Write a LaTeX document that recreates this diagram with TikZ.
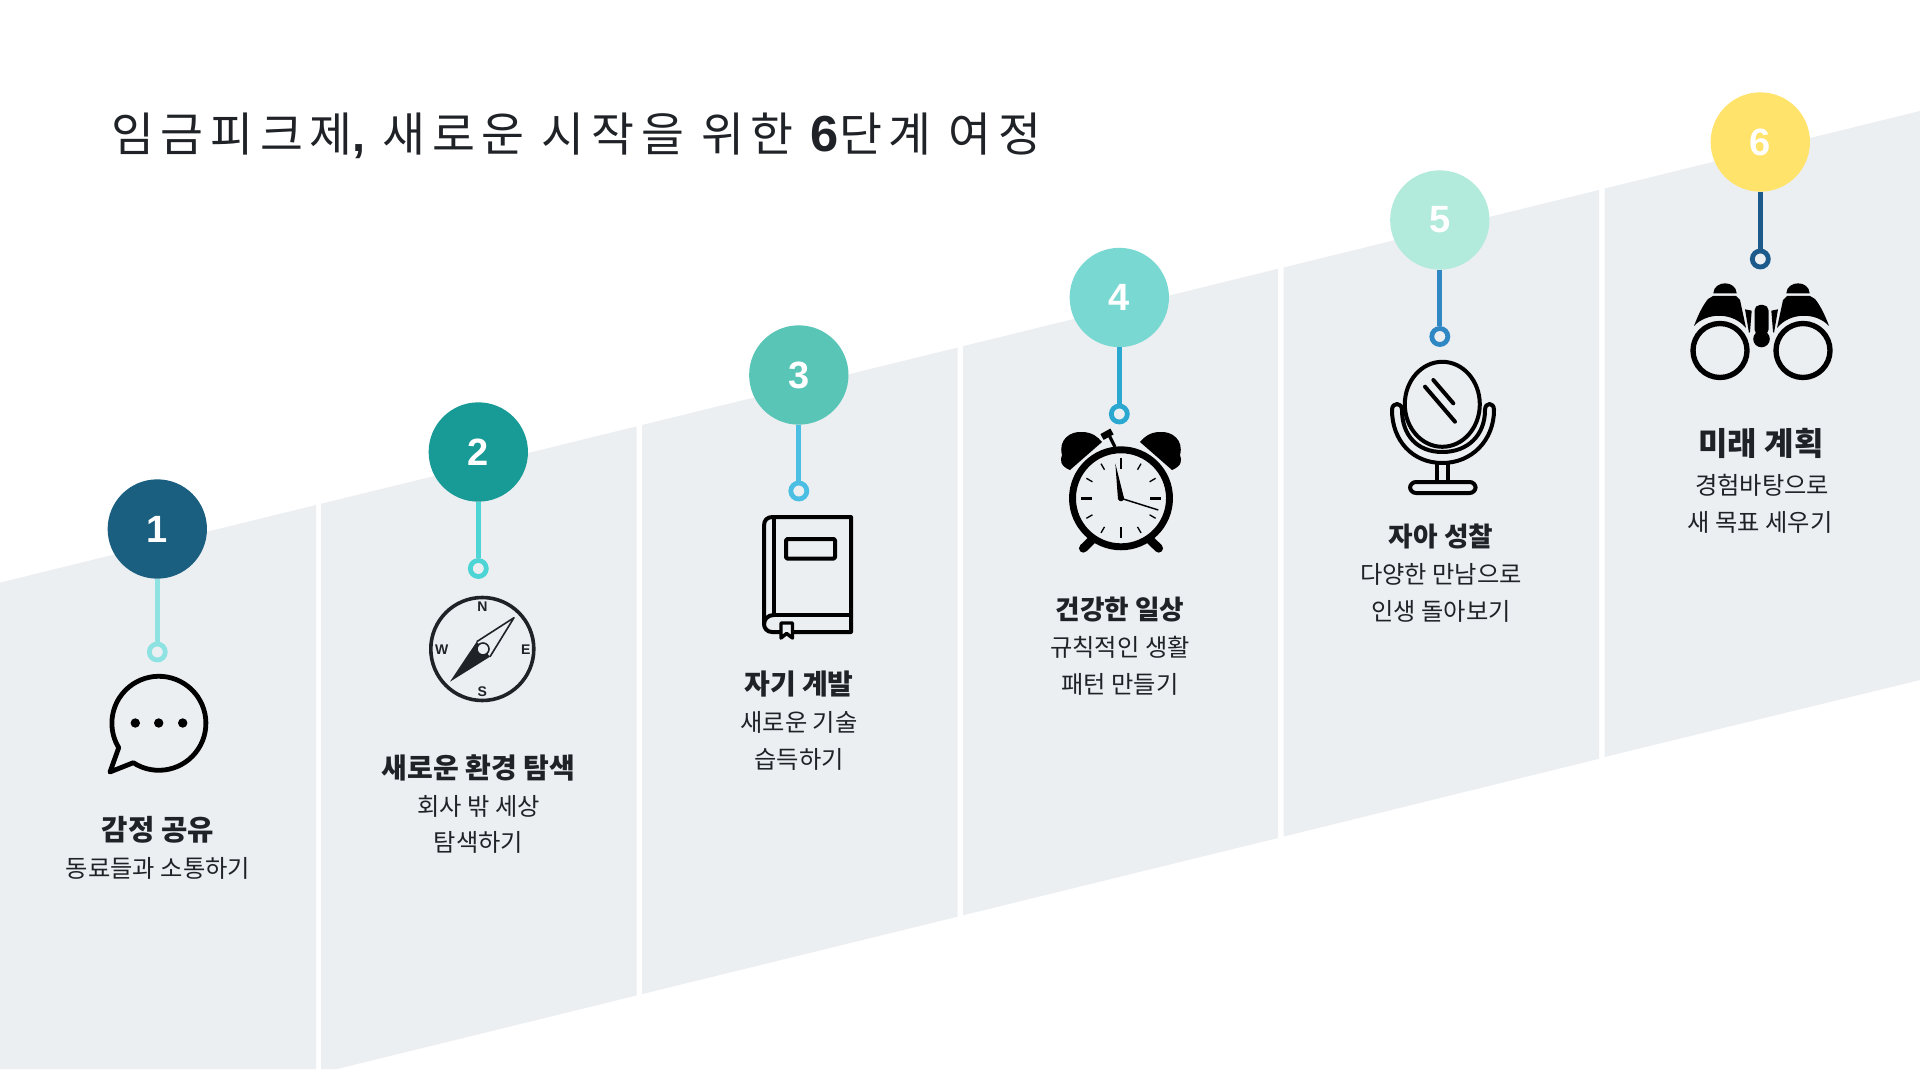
\documentclass[tikz,border=0pt]{standalone}
\usepackage{fontspec}
\setmainfont{Noto Sans CJK KR}
\newfontfamily\latinfont{Liberation Sans}
\definecolor{panelfill}{HTML}{ECEFF2}
\definecolor{inkdark}{HTML}{1F2226}
\tikzset{
  panel/.style={fill=panelfill,draw=none},
  numcircle/.style={circle,minimum size=74.5pt,inner sep=0pt,text=white,font=\latinfont\fontsize{28.5}{28.5}\selectfont\bfseries},
  stemring/.style={circle,minimum size=12pt,inner sep=0pt,line width=3.6pt,fill=panelfill},
  stemline/.style={line width=4pt},
  headtext/.style={inner sep=0.75pt,text=inkdark,font=\fontsize{21}{21}\selectfont\bfseries},
  bodytext/.style={inner sep=0.75pt,text=inkdark,font=\fontsize{18.2}{18.2}\selectfont},
  iconline/.style={draw=black,line width=3pt,line join=round},
  compassletter/.style={inner sep=0pt,text=inkdark,font=\latinfont\fontsize{10.5}{10.5}\selectfont\bfseries}
}

\begin{document}
\begin{tikzpicture}[x=0.75pt,y=0.75pt,yscale=-1,xscale=1]
\useasboundingbox (0,0) rectangle (1920,1080);
\fill [white] (0,0) rectangle (1920,1080);

%Shape: Polygon
\path [panel] (0,582.6) -- (316,505) -- (316,1069) -- (0,1069) -- cycle ;
\path [panel] (321,503.8) -- (636.5,426.4) -- (636.5,995.5) -- (337,1069) -- (321,1069) -- cycle ;
\path [panel] (642,425) -- (957.5,347.6) -- (957.5,916.7) -- (642,994.1) -- cycle ;
\path [panel] (963,346.2) -- (1278,268.8) -- (1278,838) -- (963,915.3) -- cycle ;
\path [panel] (1283.5,267.5) -- (1599,190) -- (1599,758.8) -- (1283.5,836.6) -- cycle ;
\path [panel] (1604.5,188.6) -- (1920,111) -- (1920,680) -- (1604.5,757) -- cycle ;

% Text Node
\node (title) [anchor=base west,inner sep=0pt,text=inkdark,font=\fontsize{35}{35}\selectfont\addfontfeature{LetterSpace=14.3}] at (111,152) {임금피크제{\latinfont\bfseries,} 새로운 시작을 위한 {\latinfont\bfseries\fontsize{38}{38}\selectfont 6}단계 여정};

%Shape: Circle
\node (c1) [numcircle,fill={rgb,255:red,26;green,95;blue,127}] at (157.3,529) {1};
\node (c2) [numcircle,fill={rgb,255:red,24;green,154;blue,150}] at (478.3,452) {2};
\node (c3) [numcircle,fill={rgb,255:red,88;green,197;blue,182}] at (798.8,375) {3};
\node (c4) [numcircle,fill={rgb,255:red,122;green,216;blue,210}] at (1119.3,297.5) {4};
\node (c5) [numcircle,fill={rgb,255:red,178;green,234;blue,220}] at (1439.8,220) {5};
\node (c6) [numcircle,fill={rgb,255:red,255;green,227;blue,106}] at (1760.3,142) {6};

%Shape: Circle
\node (r1) [stemring,draw={rgb,255:red,142;green,227;blue,226}] at (157.3,652) {};
\node (r2) [stemring,draw={rgb,255:red,77;green,212;blue,212}] at (478.3,568.5) {};
\node (r3) [stemring,draw={rgb,255:red,75;green,191;blue,227}] at (798.8,491) {};
\node (r4) [stemring,draw={rgb,255:red,43;green,168;blue,207}] at (1119.3,414) {};
\node (r5) [stemring,draw={rgb,255:red,47;green,135;blue,196}] at (1439.8,336.5) {};
\node (r6) [stemring,draw={rgb,255:red,29;green,90;blue,140}] at (1760.3,259) {};

%Straight Lines
\draw [stemline,draw={rgb,255:red,142;green,227;blue,226}] (c1) -- (r1) ;
\draw [stemline,draw={rgb,255:red,77;green,212;blue,212}] (c2) -- (r2) ;
\draw [stemline,draw={rgb,255:red,75;green,191;blue,227}] (c3) -- (r3) ;
\draw [stemline,draw={rgb,255:red,43;green,168;blue,207}] (c4) -- (r4) ;
\draw [stemline,draw={rgb,255:red,47;green,135;blue,196}] (c5) -- (r5) ;
\draw [stemline,draw={rgb,255:red,29;green,90;blue,140}] (c6) -- (r6) ;

%Icon: speech bubble
\draw [iconline,line width=3.6pt] (133.3,762.7) arc (123:-211.3:47) -- (110,772) -- cycle ;
\fill (135.3,723) circle (4.7) ;
\fill (158.7,723) circle (4.7) ;
\fill (182.7,723) circle (4.7) ;

%Icon: compass
\draw [inkdark,line width=2.7pt] (482.3,649) circle (51.5) ;
\node (compassN) [compassletter] at (482.3,606.7) {N};
\node (compassS) [compassletter] at (482.3,691.7) {S};
\node (compassW) [compassletter] at (441.7,649.3) {W};
\node (compassE) [compassletter] at (525.7,649.3) {E};
\fill [inkdark] (450,681.7) -- (476.7,641.7) -- (490,656.7) -- cycle ;
\draw [inkdark,line width=1.2pt,line join=round] (476.7,641.7) -- (514,617.7) -- (490,656.7) ;
\draw [inkdark,fill=panelfill,line width=1.2pt] (483,649) circle (6) ;

%Icon: book
\draw [iconline] (851,517) -- (851,632) -- (772,632) .. controls (767,632) and (764,628) .. (764,624) -- (764,526) .. controls (764,520) and (767,517) .. (773,517) -- cycle ;
\draw [iconline] (774,517) -- (774,615) -- (851,615) ;
\draw [iconline] (774,615) .. controls (768,615) and (764,619) .. (764,624) ;
\draw [iconline,rounded corners=1pt] (786,539) rectangle (835,558.6) ;
\draw [iconline,fill=panelfill,line width=2.6pt] (781,623) -- (792.5,623) -- (792.5,638) -- (786.6,633.5) -- (781,638) -- cycle ;

%Icon: alarm clock
\draw [iconline,line width=5.2pt] (1121,498.3) circle (48.5) ;
\fill (1070,470) .. controls (1060,466) and (1060,460) .. (1062,455) .. controls (1058,440) and (1070,431) .. (1082,432) .. controls (1092,432) and (1098,437) .. (1102,442) -- cycle ;
\fill (1172,470) .. controls (1182,466) and (1182,460) .. (1180,455) .. controls (1184,440) and (1172,431) .. (1160,432) .. controls (1150,432) and (1144,437) .. (1140,442) -- cycle ;
\draw [line width=2.4pt] (1108,433) -- (1115,447) ;
\draw [line width=5pt] (1102,437) -- (1112,431.5) ;
\draw [line width=6.5pt,line cap=round] (1091.7,540) -- (1083.3,548.3) ;
\draw [line width=6.5pt,line cap=round] (1150.3,540) -- (1158.7,548.3) ;
\draw [line width=2.2pt] (1121,458.3) -- (1121,469.3) ;
\draw [line width=2.2pt] (1121,527.3) -- (1121,538.3) ;
\draw [line width=2.2pt] (1081,498.3) -- (1092,498.3) ;
\draw [line width=2.2pt] (1150,498.3) -- (1161,498.3) ;
\draw [line width=1pt] (1141,463.7) -- (1137.5,469.7) ;
\draw [line width=1pt] (1155.6,478.3) -- (1149.6,481.8) ;
\draw [line width=1pt] (1155.6,518.3) -- (1149.6,514.8) ;
\draw [line width=1pt] (1141,532.9) -- (1137.5,526.9) ;
\draw [line width=1pt] (1101,532.9) -- (1104.5,526.9) ;
\draw [line width=1pt] (1086.4,518.3) -- (1092.4,514.8) ;
\draw [line width=1pt] (1086.4,478.3) -- (1092.4,481.8) ;
\draw [line width=1pt] (1101,463.7) -- (1104.5,469.7) ;
\fill (1115.3,463.3) -- (1124,498.3) -- (1118,499.5) -- cycle ;
\draw [line width=1.1pt] (1121,498.3) -- (1158.3,510) ;
\fill (1121,498.3) circle (3) ;

%Icon: mirror
\draw [iconline] (1442.3,404.3) ellipse (37.5 and 42.5) ;
\draw [iconline,line cap=round] (1433.3,380) -- (1453.3,403.3) ;
\draw [iconline,line cap=round] (1425,386.7) -- (1455,421.7) ;
\draw [iconline] (1392,410) .. controls (1392,440) and (1412,463) .. (1442.3,463) .. controls (1472,463) and (1494,440) .. (1494,410) .. controls (1494,402) and (1485,402) .. (1485,410) .. controls (1485,435) and (1468,452) .. (1442.3,452) .. controls (1417,452) and (1402,435) .. (1402,410) .. controls (1402,402) and (1392,402) .. (1392,410) -- cycle ;
\draw [iconline] (1437.3,463) -- (1437.3,481) ;
\draw [iconline] (1448.3,463) -- (1448.3,481) ;
\draw [iconline,rounded corners=4.5pt] (1410,482) rectangle (1475.6,493) ;

%Icon: binoculars
\draw [iconline,line width=4pt] (1720,350.5) circle (27) ;
\draw [iconline,line width=4pt] (1803,350.5) circle (27) ;
\fill (1761.5,339) circle (8.3) ;
\fill (1694,326) .. controls (1698,315) and (1703,305) .. (1708,299) -- (1713,296) -- (1736,296) -- (1740,300) -- (1746,328) .. controls (1733,312) and (1707,312) .. (1694,326) -- cycle ;
\fill (1829,326) .. controls (1825,315) and (1820,305) .. (1815,299) -- (1810,296) -- (1787,296) -- (1783,300) -- (1777,328) .. controls (1790,312) and (1816,312) .. (1829,326) -- cycle ;
\fill (1713.3,293.3) .. controls (1714,280) and (1736,280) .. (1736.7,293.3) -- cycle ;
\fill (1809.7,293.3) .. controls (1809,280) and (1787,280) .. (1786.3,293.3) -- cycle ;
\fill [rounded corners=4pt] (1754.5,335) -- (1754.5,305) -- (1768.5,305) -- (1768.5,335) -- cycle ;
\fill (1745,309.3) -- (1751.7,310.7) -- (1750,331.7) -- (1749,333) -- cycle ;
\fill (1778,309.3) -- (1771.3,310.7) -- (1773,331.7) -- (1774,333) -- cycle ;

% Text Node
\node (h1) [headtext,font=\fontsize{21.5}{21.5}\selectfont\bfseries] at (158,830) {감정 공유};
\node (b1a) [bodytext] at (158,868) {동료들과 소통하기};
% Text Node
\node (h2) [headtext] at (478.5,768) {새로운 환경 탐색};
\node (b2a) [bodytext] at (478.5,806) {회사 밖 세상};
\node (b2b) [bodytext] at (478.5,842) {탐색하기};
% Text Node
\node (h3) [headtext] at (799,684) {자기 계발};
\node (b3a) [bodytext] at (799,722) {새로운 기술};
\node (b3b) [bodytext] at (799,759) {습득하기};
% Text Node
\node (h4) [headtext,font=\fontsize{20}{20}\selectfont\bfseries] at (1120,610) {건강한 일상};
\node (b4a) [bodytext] at (1120,647.5) {규칙적인 생활};
\node (b4b) [bodytext] at (1120,684) {패턴 만들기};
% Text Node
\node (h5) [headtext,font=\fontsize{20}{20}\selectfont\bfseries] at (1441,536.5) {자아 성찰};
\node (b5a) [bodytext] at (1441,574.5) {다양한 만남으로};
\node (b5b) [bodytext] at (1441,611) {인생 돌아보기};
% Text Node
\node (h6) [headtext,font=\fontsize{24}{24}\selectfont\bfseries] at (1761,443.5) {미래 계획};
\node (b6a) [bodytext] at (1762,485) {경험바탕으로};
\node (b6b) [bodytext] at (1760,522) {새 목표 세우기};

\end{tikzpicture}
\end{document}
